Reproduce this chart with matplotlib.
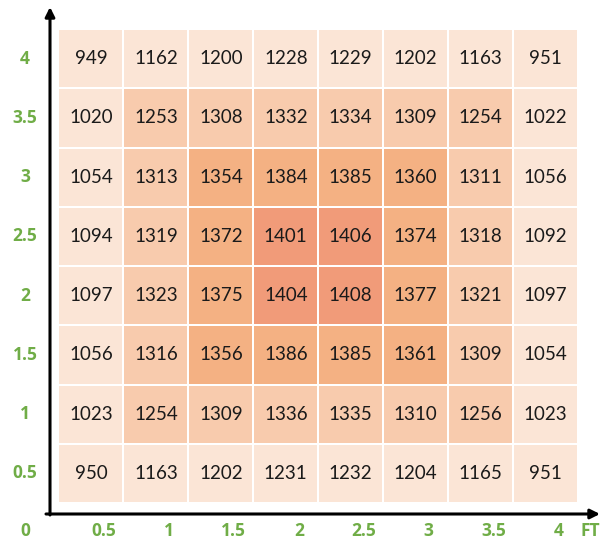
import numpy as np
import matplotlib
matplotlib.use('Agg')
import matplotlib.pyplot as plt
from matplotlib.colors import ListedColormap, BoundaryNorm

plt.rcParams['font.family'] = ['Lato', 'DejaVu Sans']

# values, rows listed from top (y=4) to bottom (y=0.5)
row_labels = ['4', '3.5', '3', '2.5', '2', '1.5', '1', '0.5']
col_labels = ['0.5', '1', '1.5', '2', '2.5', '3', '3.5', '4']
values = [
    [949, 1162, 1200, 1228, 1229, 1202, 1163, 951],
    [1020, 1253, 1308, 1332, 1334, 1309, 1254, 1022],
    [1054, 1313, 1354, 1384, 1385, 1360, 1311, 1056],
    [1094, 1319, 1372, 1401, 1406, 1374, 1318, 1092],
    [1097, 1323, 1375, 1404, 1408, 1377, 1321, 1097],
    [1056, 1316, 1356, 1386, 1385, 1361, 1309, 1054],
    [1023, 1254, 1309, 1336, 1335, 1310, 1256, 1023],
    [950, 1163, 1202, 1231, 1232, 1204, 1165, 951],
]
band_edges = [0, 1250, 1350, 1400, 2000]
band_colors = ['#FBE5D6', '#F8CBAD', '#F4B183', '#F19B79']

green = '#70AD47'

data = np.array(values)
nrow, ncol = data.shape

fig = plt.figure(figsize=(6.12, 5.42), dpi=100)
W, H = 612, 542
# heatmap area in pixels
left, right, top, bottom = 58.5, 578, 29, 503
ax = fig.add_axes([left / W, 1 - bottom / H, (right - left) / W, (bottom - top) / H])

cmap = ListedColormap(band_colors)
norm = BoundaryNorm(band_edges, cmap.N)
ax.pcolormesh(np.arange(ncol + 1), np.arange(nrow + 1), data, cmap=cmap, norm=norm,
              edgecolors='white', linewidth=1.2)
ax.set_xlim(0, ncol)
ax.set_ylim(nrow, 0)
ax.axis('off')

for r in range(nrow):
    for c in range(ncol):
        ax.text(c + 0.5, r + 0.5, str(data[r, c]), ha='center', va='center',
                fontsize=13.5, color='#1a1a1a')

cw = (right - left) / ncol
ch = (bottom - top) / nrow
ylab_x = (25 - left) / cw
xlab_y = nrow + (531 - bottom) / ch

lab_style = dict(ha='center', va='center', fontsize=12.5, fontweight='bold',
                 family=['Open Sans', 'DejaVu Sans'], color=green, clip_on=False)
for r, lab in enumerate(row_labels):
    ax.text(ylab_x, r + 0.5, lab, **lab_style)
for c, lab in enumerate(col_labels):
    ax.text(c + 0.7, xlab_y, lab, **lab_style)
ax.text(ylab_x, xlab_y, '0', **lab_style)
ax.text((590 - left) / cw, xlab_y, 'FT', **lab_style)

# axis arrows
arrow = dict(arrowstyle='-|>', lw=2.2, color='black', mutation_scale=14,
             shrinkA=0, shrinkB=0)
fig.add_artist(matplotlib.patches.FancyArrowPatch(
    (46 / W, 1 - 514 / H), (600 / W, 1 - 514 / H), transform=fig.transFigure, **arrow))
fig.add_artist(matplotlib.patches.FancyArrowPatch(
    (50 / W, 1 - 515 / H), (50 / W, 1 - 7 / H), transform=fig.transFigure, **arrow))

fig.savefig('out.png', dpi=100)
